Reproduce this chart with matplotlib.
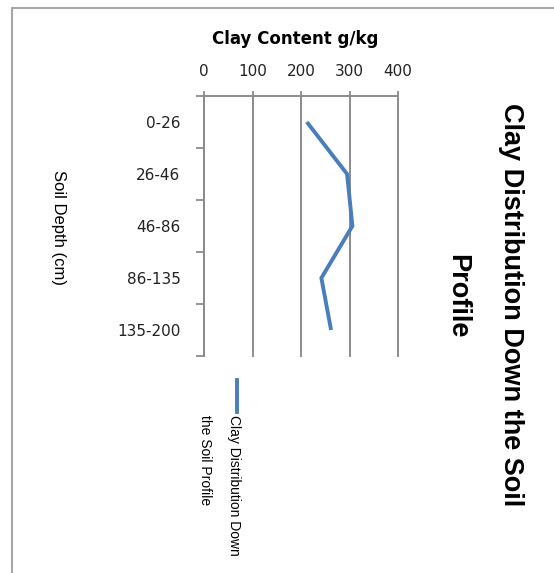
import matplotlib
matplotlib.use("Agg")
import matplotlib.pyplot as plt
from matplotlib.patches import Rectangle

# data
depths = ["0-26", "26-46", "46-86", "86-135", "135-200"]
clay = [212, 295, 306, 242, 262]
xticks = [0, 100, 200, 300, 400]

LINE_BLUE = "#4a7ebb"
GRID_GREY = "#8c8c8c"
NARROW = ["Liberation Sans", "DejaVu Sans"]

W, H = 554, 573
fig = plt.figure(figsize=(W / 100, H / 100), dpi=100)

def fx(px):
	return px / W

def fy(py):
	return 1 - py / H

# outer chart border
fig.patches.append(Rectangle((fx(12), fy(H + 5)), 1.2, fy(7.5) - fy(H + 5),
	transform=fig.transFigure, fill=False, edgecolor="#a6a6a6", lw=1.5))

ax = fig.add_axes([fx(204), fy(356), fx(398) - fx(204), fy(96) - fy(356)])
pos = list(range(len(depths)))
ax.plot(clay, pos, color=LINE_BLUE, lw=2.8, solid_capstyle="butt", solid_joinstyle="miter")

ax.set_xlim(0, 400)
ax.set_ylim(len(depths) - 0.5, -0.5)
ax.xaxis.tick_top()
ax.xaxis.set_label_position("top")
ax.set_xticks(xticks)
ax.set_xticklabels([str(v) for v in xticks], fontsize=11, color="#222222")
ax.tick_params(axis="x", length=3.6, width=1.3, color=GRID_GREY, pad=9)
ax.grid(axis="x", color=GRID_GREY, lw=1.4)
for gl in ax.get_xgridlines():
	gl.set_clip_on(False)

ax.set_yticks(pos)
ax.set_yticklabels(depths, fontsize=11, color="#222222")
ax.tick_params(axis="y", which="major", length=0, pad=17)
ax.set_yticks([p - 0.5 for p in pos] + [len(depths) - 0.5], minor=True)
ax.tick_params(axis="y", which="minor", length=5.8, width=1.3, color=GRID_GREY)

for s in ("right", "bottom"):
	ax.spines[s].set_visible(False)
for s in ("left", "top"):
	ax.spines[s].set_color(GRID_GREY)
	ax.spines[s].set_linewidth(1.4)

fig.text(fx(295), fy(39), "Clay Content g/kg", fontsize=12, fontweight="bold",
	ha="center", va="center")
fig.text(fx(58), fy(228), "Soil Depth (cm)", family=NARROW, fontsize=12,
	rotation=-90, ha="center", va="center")

# title, rotated like the original
fig.text(fx(511), fy(305), "Clay Distribution Down the Soil", family=NARROW,
	fontsize=19.5, fontweight="bold", rotation=-90, ha="center", va="center")
fig.text(fx(457), fy(296), "Profile", family=NARROW,
	fontsize=19.5, fontweight="bold", rotation=-90, ha="center", va="center")

# legend
fig.lines.append(plt.Line2D([fx(237), fx(237)], [fy(380), fy(412)],
	transform=fig.transFigure, color=LINE_BLUE, lw=2.8))
fig.text(fx(234), fy(415), "Clay Distribution Down", family=NARROW, fontsize=10,
	rotation=-90, ha="center", va="top")
fig.text(fx(205), fy(415), "the Soil Profile", family=NARROW, fontsize=10,
	rotation=-90, ha="center", va="top")

fig.savefig("out.png", dpi=100)
